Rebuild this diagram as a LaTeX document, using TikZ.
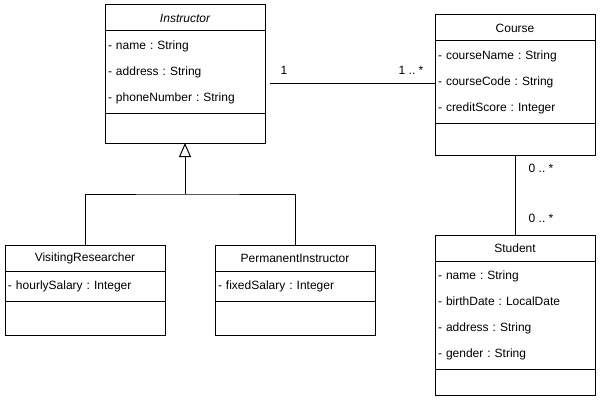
\documentclass[tikz,border=0pt]{standalone}
\usepackage{fontspec}
\setmainfont{Liberation Sans}
\frenchspacing
\usetikzlibrary{positioning,arrows.meta}
\begin{document}
\begin{tikzpicture}[x=1pt, y=-1pt, node distance=0pt, line width=1pt]
  \tikzset{
    classhead/.style={rectangle, draw=black, minimum width=160pt, minimum height=26pt, inner sep=0pt, outer sep=0pt, font=\fontsize{12}{14}\selectfont},
    classattrs/.style={rectangle, draw=black, minimum width=160pt, text width=154pt, align=left, inner xsep=3pt, inner ysep=0pt, outer sep=0pt, font=\fontsize{12}{26}\selectfont},
    classops/.style={rectangle, draw=black, minimum width=160pt, inner sep=0pt, outer sep=0pt},
    multiplicity/.style={inner sep=0pt, font=\fontsize{12}{14}\selectfont},
    inherit/.style={-{Triangle[open, length=14pt, width=12pt]}}
  }
  \useasboundingbox (0,0) rectangle (601,401);

  % Instructor
  \node at (105,5) [classhead, anchor=north west] (instructor) {\itshape Instructor};
  \node [classattrs, minimum height=82pt, below=of instructor] (instructor-attrs) {- name : String\\- address : String\\- phoneNumber : String};
  \node [classops, minimum height=30pt, below=of instructor-attrs] (instructor-ops) {};

  % Course
  \node at (435,15) [classhead, anchor=north west] (course) {Course};
  \node [classattrs, minimum height=82pt, below=of course] (course-attrs) {- courseName : String\\- courseCode : String\\- creditScore : Integer};
  \node [classops, minimum height=32pt, below=of course-attrs] (course-ops) {};

  % Student
  \node at (435,235) [classhead, anchor=north west] (student) {Student};
  \node [classattrs, minimum height=108pt, below=of student] (student-attrs) {- name : String\\- birthDate : LocalDate\\- address : String\\- gender : String};
  \node [classops, minimum height=26pt, below=of student-attrs] (student-ops) {};

  % subclasses
  \node at (5,245) [classhead, anchor=north west] (visiting) {VisitingResearcher};
  \node [classattrs, minimum height=30pt, below=of visiting] (visiting-attrs) {- hourlySalary : Integer};
  \node [classops, minimum height=34pt, below=of visiting-attrs] (visiting-ops) {};

  \node at (215,245) [classhead, anchor=north west] (permanent) {PermanentInstructor};
  \node [classattrs, minimum height=30pt, below=of permanent] (permanent-attrs) {- fixedSalary : Integer};
  \node [classops, minimum height=34pt, below=of permanent-attrs] (permanent-ops) {};

  % associations
  \coordinate (assoc-start) at (270,84);
  \draw (assoc-start) -- (assoc-start -| course-attrs.west);
  \node at (284,70) [multiplicity] (mult-instructor) {1};
  \node at (411,70) [multiplicity] (mult-course) {1 .. *};

  \draw (course-ops.south) -- (student.north);
  \node at (541,168) [multiplicity] (mult-course-student) {0 .. *};
  \node at (541,218) [multiplicity] (mult-student-course) {0 .. *};

  % generalization
  \coordinate (split) at (185,194);
  \draw (visiting.north) |- (split) -| (permanent.north);
  \draw [inherit] (split) -- (instructor-ops.south);
\end{tikzpicture}
\end{document}
